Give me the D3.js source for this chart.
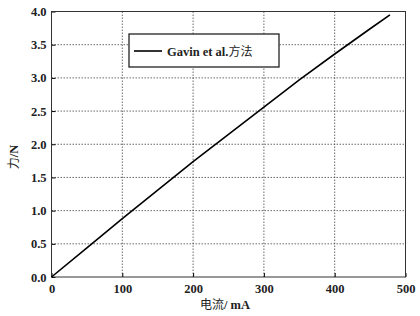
<!DOCTYPE html>
<html>
<head>
<meta charset="utf-8">
<script src="https://cdn.jsdelivr.net/npm/d3@7"></script>
<style>
  body { margin: 0; background: #fff; }
  text { font-family: "Liberation Serif", "Noto Sans CJK SC", serif; }
</style>
</head>
<body>
<div id="chart"></div>
<script>
// data
var current = [0, 50, 100, 150, 200, 250, 300, 350, 400, 450, 478];
var force   = [0, 0.44, 0.88, 1.31, 1.74, 2.15, 2.56, 2.97, 3.36, 3.74, 3.95];
var xTicks = [0, 100, 200, 300, 400, 500];
var yTicks = [0, 0.5, 1, 1.5, 2, 2.5, 3, 3.5, 4];
var seriesName = ['Gavin et al.', '方法'];
var xTitle = ['电流', '/ mA'];
var yTitle = ['力', '/N'];

document.addEventListener('DOMContentLoaded', function() {
  var svg = d3.select('#chart').append('svg')
              .attr('width', 420)
              .attr('height', 316);

  var x = d3.scaleLinear().domain([0, 500]).range([51.5, 405.5]);
  var y = d3.scaleLinear().domain([0, 4]).range([277, 11.5]);

  // dotted grid
  svg.append('g').selectAll('line')
     .data(xTicks.slice(1, -1)).enter().append('line')
     .attr('x1', d => x(d)).attr('x2', d => x(d))
     .attr('y1', y(4)).attr('y2', y(0))
     .attr('stroke', '#444').attr('stroke-width', 0.8)
     .attr('stroke-dasharray', '1.5,1.5');
  svg.append('g').selectAll('line')
     .data(yTicks.slice(1, -1)).enter().append('line')
     .attr('y1', d => y(d)).attr('y2', d => y(d))
     .attr('x1', x(0)).attr('x2', x(500))
     .attr('stroke', '#444').attr('stroke-width', 0.8)
     .attr('stroke-dasharray', '1.5,1.5');

  // axes (ticks pointing inward)
  var xAxis = svg.append('g')
     .attr('transform', 'translate(0,' + y(0) + ')')
     .call(d3.axisBottom(x).tickValues(xTicks).tickSize(-4).tickPadding(7).tickFormat(d3.format('d')));
  var yAxis = svg.append('g')
     .attr('transform', 'translate(' + x(0) + ',0)')
     .call(d3.axisLeft(y).tickValues(yTicks).tickSize(-4).tickPadding(5).tickFormat(d3.format('.1f')));
  [xAxis, yAxis].forEach(function(a) {
    a.select('.domain').remove();
    a.selectAll('.tick line').attr('stroke', '#000');
    a.selectAll('.tick text')
     .attr('font-family', '"Liberation Serif", serif')
     .attr('font-size', 12.5)
     .attr('font-weight', 'bold')
     .attr('fill', '#222');
  });

  // frame
  svg.append('rect')
     .attr('x', x(0)).attr('y', y(4))
     .attr('width', x(500) - x(0)).attr('height', y(0) - y(4))
     .attr('fill', 'none').attr('stroke', '#333').attr('stroke-width', 1);

  // series line
  var line = d3.line()
               .x((d, i) => x(current[i]))
               .y(d => y(d));
  svg.append('path')
     .datum(force)
     .attr('d', line)
     .attr('fill', 'none')
     .attr('stroke', '#000')
     .attr('stroke-width', 1.6);

  // mixed text: latin parts bold serif, CJK parts regular
  function mixed(sel, parts) {
    parts.forEach(function(p) {
      var cjk = /[\u4e00-\u9fff]/.test(p);
      sel.append('tspan')
         .attr('font-weight', cjk ? 'normal' : 'bold')
         .attr('font-family', cjk ? '"Noto Sans CJK SC", sans-serif' : '"Liberation Serif", serif')
         .attr('font-size', cjk ? 12 : 12.5)
         .text(p);
    });
  }

  // legend
  var lg = svg.append('g');
  lg.append('rect')
    .attr('x', 129).attr('y', 34)
    .attr('width', 150).attr('height', 33)
    .attr('fill', '#fff').attr('stroke', '#222').attr('stroke-width', 1.3);
  lg.append('line')
    .attr('x1', 134).attr('x2', 162).attr('y1', 51).attr('y2', 51)
    .attr('stroke', '#000').attr('stroke-width', 1.6);
  mixed(lg.append('text').attr('x', 167).attr('y', 55.5).attr('fill', '#222'), seriesName);

  // axis titles
  mixed(svg.append('text')
     .attr('x', 225).attr('y', 309)
     .attr('text-anchor', 'middle')
     .attr('fill', '#222'), xTitle);
  mixed(svg.append('text')
     .attr('transform', 'translate(18,157) rotate(-90)')
     .attr('text-anchor', 'middle')
     .attr('fill', '#222'), yTitle);
});
</script>
</body>
</html>
